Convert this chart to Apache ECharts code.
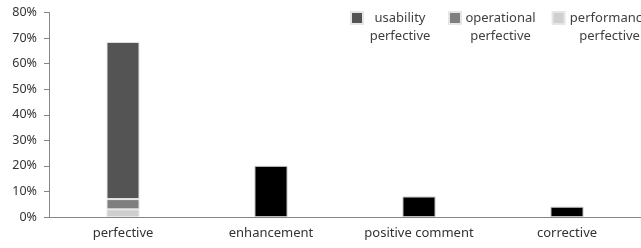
<!DOCTYPE html>
<html>
<head>
<meta charset="utf-8">
<script src="https://cdn.jsdelivr.net/npm/echarts@6/dist/echarts.min.js"></script>
<style>
  html, body { margin: 0; padding: 0; background: #fff; }
  #main { width: 641px; height: 248px; }
</style>
</head>
<body>
<div id="main"></div>
<script>
var categories = ['perfective', 'enhancement', 'positive comment', 'corrective'];
// perfective split into three sub-kinds, other categories in black
var usability = [61.5, '-', '-', '-'];
var operational = [4, '-', '-', '-'];
var performance = [3, '-', '-', '-'];
var others = ['-', 20, 8, 4];
var yTicks = [0, 10, 20, 30, 40, 50, 60, 70, 80];

var myChart = echarts.init(document.getElementById('main'));
var font = 'Noto Sans';
var legendWidths = {
  'usability perfective': 64,
  'operational perfective': 69,
  'performance perfective': 80
};

function richStyle(w) {
  return { width: w, align: 'center', fontSize: 13, lineHeight: 18, color: '#404040', fontFamily: font };
}

var option = {
  animation: false,
  textStyle: { fontFamily: font },
  grid: { left: 49, right: 0, top: 12.5, bottom: 31 },
  legend: {
    left: 350,
    top: -9,
    width: 400,
    padding: 0,
    itemWidth: 12,
    itemHeight: 12,
    itemGap: 16,
    icon: 'rect',
    data: ['usability perfective', 'operational perfective', 'performance perfective'],
    formatter: function (name) {
      var parts = name.split(' ');
      var key = name.charAt(0);
      return '\n{' + key + '|' + parts[0] + '}\n{' + key + '|' + parts[1] + '}';
    },
    textStyle: {
      fontFamily: font,
      fontSize: 13,
      color: '#404040',
      lineHeight: 18,
      rich: {
        u: richStyle(legendWidths['usability perfective']),
        o: richStyle(legendWidths['operational perfective']),
        p: richStyle(legendWidths['performance perfective'])
      }
    }
  },
  xAxis: {
    type: 'category',
    data: categories,
    axisLine: { lineStyle: { color: '#868686' } },
    axisTick: { length: 5, lineStyle: { color: '#868686' } },
    axisLabel: { color: '#333', fontSize: 13, margin: 10 }
  },
  yAxis: {
    type: 'value',
    min: yTicks[0],
    max: yTicks[yTicks.length - 1],
    interval: 10,
    splitLine: { show: false },
    axisLine: { show: true, lineStyle: { color: '#868686' } },
    axisTick: { show: true, length: 5, lineStyle: { color: '#868686' } },
    axisLabel: { color: '#333', fontSize: 12.5, margin: 12, formatter: '{value}%' }
  },
  series: [
    {
      name: 'performance perfective', type: 'bar', stack: 'all', barWidth: 33,
      data: performance,
      itemStyle: { color: '#cfcfcf', borderColor: '#e6e6e6', borderWidth: 1 }
    },
    {
      name: 'operational perfective', type: 'bar', stack: 'all', barWidth: 33,
      data: operational,
      itemStyle: { color: '#7f7f7f', borderColor: '#e6e6e6', borderWidth: 1 }
    },
    {
      name: 'usability perfective', type: 'bar', stack: 'all', barWidth: 33,
      data: usability,
      itemStyle: { color: '#545454', borderColor: '#e6e6e6', borderWidth: 1 }
    },
    {
      name: 'other', type: 'bar', stack: 'all', barWidth: 33,
      data: others,
      itemStyle: { color: '#000', borderColor: '#bdbdbd', borderWidth: 1 }
    }
  ]
};
myChart.setOption(option);
</script>
</body>
</html>
